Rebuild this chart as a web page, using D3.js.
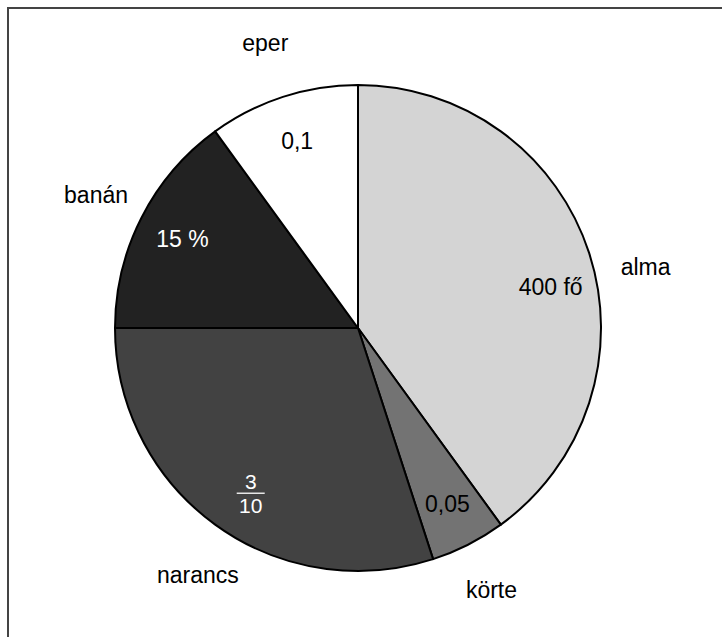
<!DOCTYPE html>
<html><head><meta charset="utf-8">
<script src="https://cdn.jsdelivr.net/npm/d3@7"></script>
<style>body{margin:0;background:#fff}text{font-family:"Liberation Sans",Arial,sans-serif}</style>
</head><body>
<svg id="c" width="722" height="637"></svg>
<script>
const categories = ["alma","körte","narancs","banán","eper"];
const values = [400, 50, 300, 150, 100];
const innerLabels = ["400 fő","0,05","3/10","15 %","0,1"];
const fillColors = ["#d4d4d4","#737373","#424242","#222222","#ffffff"];
const innerTextColors = ["#000","#000","#fff","#fff","#000"];
const labelAngleNudge = [6, 0, -3, 0, 0]; // degrees

const svg = d3.select("#c");
// frame (top and left visible)
svg.append("path").attr("d","M8,640 L8,8 L730,8").attr("fill","none").attr("stroke","#444").attr("stroke-width",2);

const cx = 358, cy = 328, R = 243;
const g = svg.append("g").attr("transform",`translate(${cx},${cy})`);
const pie = d3.pie().sort(null).value(d=>d);
const arcs = pie(values);
const arc = d3.arc().innerRadius(0).outerRadius(R);
g.selectAll("path.s").data(arcs).join("path").attr("class","s")
  .attr("d",arc).attr("fill",(d,i)=>fillColors[i]).attr("stroke","#000").attr("stroke-width",2).attr("stroke-linejoin","round");

function pos(d,i,r){
  const a = (d.startAngle+d.endAngle)/2 + labelAngleNudge[i]*Math.PI/180;
  return [r*Math.sin(a), -r*Math.cos(a)];
}
// outer labels
g.selectAll("text.o").data(arcs).join("text").attr("class","o")
  .attr("x",(d,i)=>pos(d,i,i===4?300:294)[0]).attr("y",(d,i)=>pos(d,i,i===4?300:294)[1])
  .attr("dy","0.35em").attr("text-anchor","middle").attr("font-size",23).attr("fill","#000")
  .text((d,i)=>categories[i]);
// inner labels
arcs.forEach((d,i)=>{
  const [x,y] = pos(d,i,197);
  const lab = innerLabels[i];
  if(lab.includes("/")){
    const [n,den] = lab.split("/");
    g.append("text").attr("x",x).attr("y",y-4).attr("text-anchor","middle").attr("font-size",21).attr("fill",innerTextColors[i]).text(n);
    g.append("line").attr("x1",x-14).attr("x2",x+14).attr("y1",y).attr("y2",y).attr("stroke",innerTextColors[i]).attr("stroke-width",1.3);
    g.append("text").attr("x",x).attr("y",y+20).attr("text-anchor","middle").attr("font-size",21).attr("fill",innerTextColors[i]).text(den);
  } else {
    g.append("text").attr("x",x).attr("y",y).attr("dy","0.35em").attr("text-anchor","middle").attr("font-size",23).attr("fill",innerTextColors[i]).text(lab);
  }
});
</script>
</body></html>
